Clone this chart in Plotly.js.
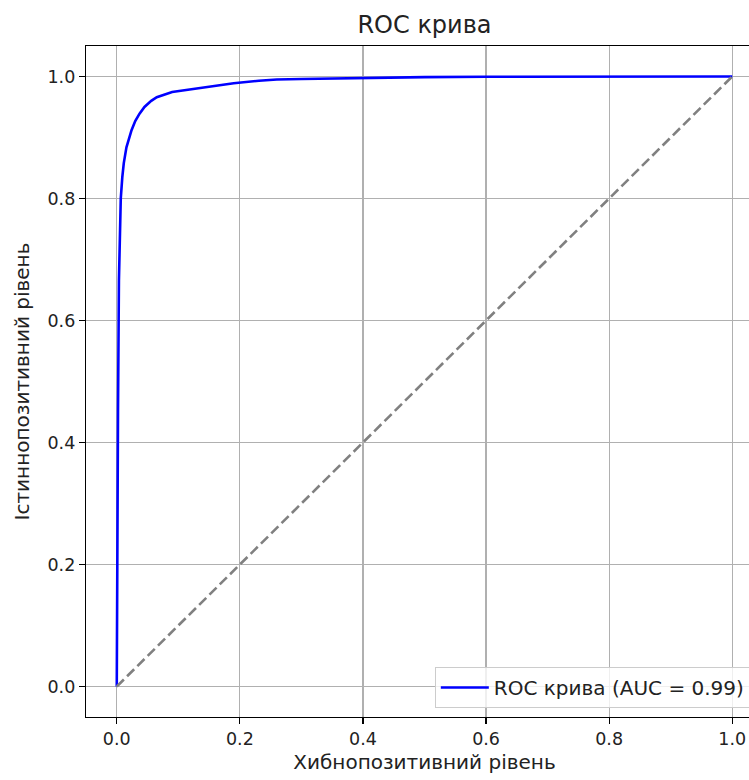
<!DOCTYPE html>
<html>
<head>
<meta charset="utf-8">
<script src="https://cdn.plot.ly/plotly-3.0.1.min.js"></script>
<style>
html, body { margin: 0; padding: 0; overflow: hidden; background: #fff; }
#chart { width: 800px; height: 780px; }
</style>
</head>
<body>
<div id="chart"></div>
<script>
const fpr = [0, 0.0005, 0.001, 0.002, 0.0035, 0.005, 0.0065, 0.009, 0.0114, 0.0157, 0.02, 0.024, 0.03, 0.037, 0.045, 0.056, 0.065, 0.078, 0.09, 0.107, 0.12, 0.15, 0.19, 0.231, 0.26, 0.3, 0.4, 0.5, 0.6, 0.8, 1.0];
const tpr = [0, 0.15, 0.3, 0.45, 0.666, 0.74, 0.8, 0.835, 0.858, 0.884, 0.9, 0.912, 0.927, 0.939, 0.95, 0.96, 0.966, 0.971, 0.9745, 0.977, 0.979, 0.984, 0.989, 0.993, 0.995, 0.996, 0.998, 0.999, 0.9995, 1.0, 1.0];
const diagX = [0, 1];
const diagY = [0, 1];
const aucLabel = 'ROC крива (AUC = 0.99)';
const titleText = 'ROC крива';
const xLabel = 'Хибнопозитивний рівень';
const yLabel = 'Істиннопозитивний рівень';
const tickVals = [0, 0.2, 0.4, 0.6, 0.8, 1.0];
const tickText = ['0.0', '0.2', '0.4', '0.6', '0.8', '1.0'];

const font = 'DejaVu Sans, sans-serif';

const traces = [
  { x: fpr, y: tpr, type: 'scatter', mode: 'lines', name: aucLabel,
    line: { color: '#0000ff', width: 2.6 } },
  { x: diagX, y: diagY, type: 'scatter', mode: 'lines', showlegend: false,
    line: { color: '#808080', width: 2.6, dash: '10px,4.5px' } }
];

const axisCommon = {
  showline: true, linecolor: '#000', linewidth: 1.2, mirror: true,
  showgrid: true, gridcolor: '#b0b0b0', gridwidth: 1.2,
  zeroline: false,
  ticks: 'outside', ticklen: 6, tickcolor: '#000', tickwidth: 1.2,
  tickfont: { family: font, size: 17.5, color: '#222' },
  tickvals: tickVals, ticktext: tickText
};

const layout = {
  width: 800, height: 780,
  margin: { l: 86, r: 37, t: 46, b: 63 },
  paper_bgcolor: '#fff', plot_bgcolor: '#fff',
  font: { family: font, color: '#222' },
  title: { text: titleText, font: { family: font, size: 24, color: '#222' },
           x: 0.5, xanchor: 'center', xref: 'paper', y: 0.968, yref: 'container', yanchor: 'middle' },
  xaxis: Object.assign({}, axisCommon, {
    range: [-0.05, 1.05],
    title: { text: xLabel, font: { family: font, size: 20, color: '#222' }, standoff: 6 }
  }),
  yaxis: Object.assign({}, axisCommon, {
    range: [-0.05, 1.05],
    title: { text: yLabel, font: { family: font, size: 20, color: '#222' }, standoff: 12 }
  }),
  showlegend: true,
  legend: {
    x: 0.982, xanchor: 'right', y: 0.0134, yanchor: 'bottom',
    itemwidth: 48,
    bgcolor: 'rgba(255,255,255,0.8)', bordercolor: '#cccccc', borderwidth: 1,
    font: { family: font, size: 20, color: '#222' }
  }
};

Plotly.newPlot('chart', traces, layout, { displayModeBar: false, staticPlot: true });
</script>
</body>
</html>
